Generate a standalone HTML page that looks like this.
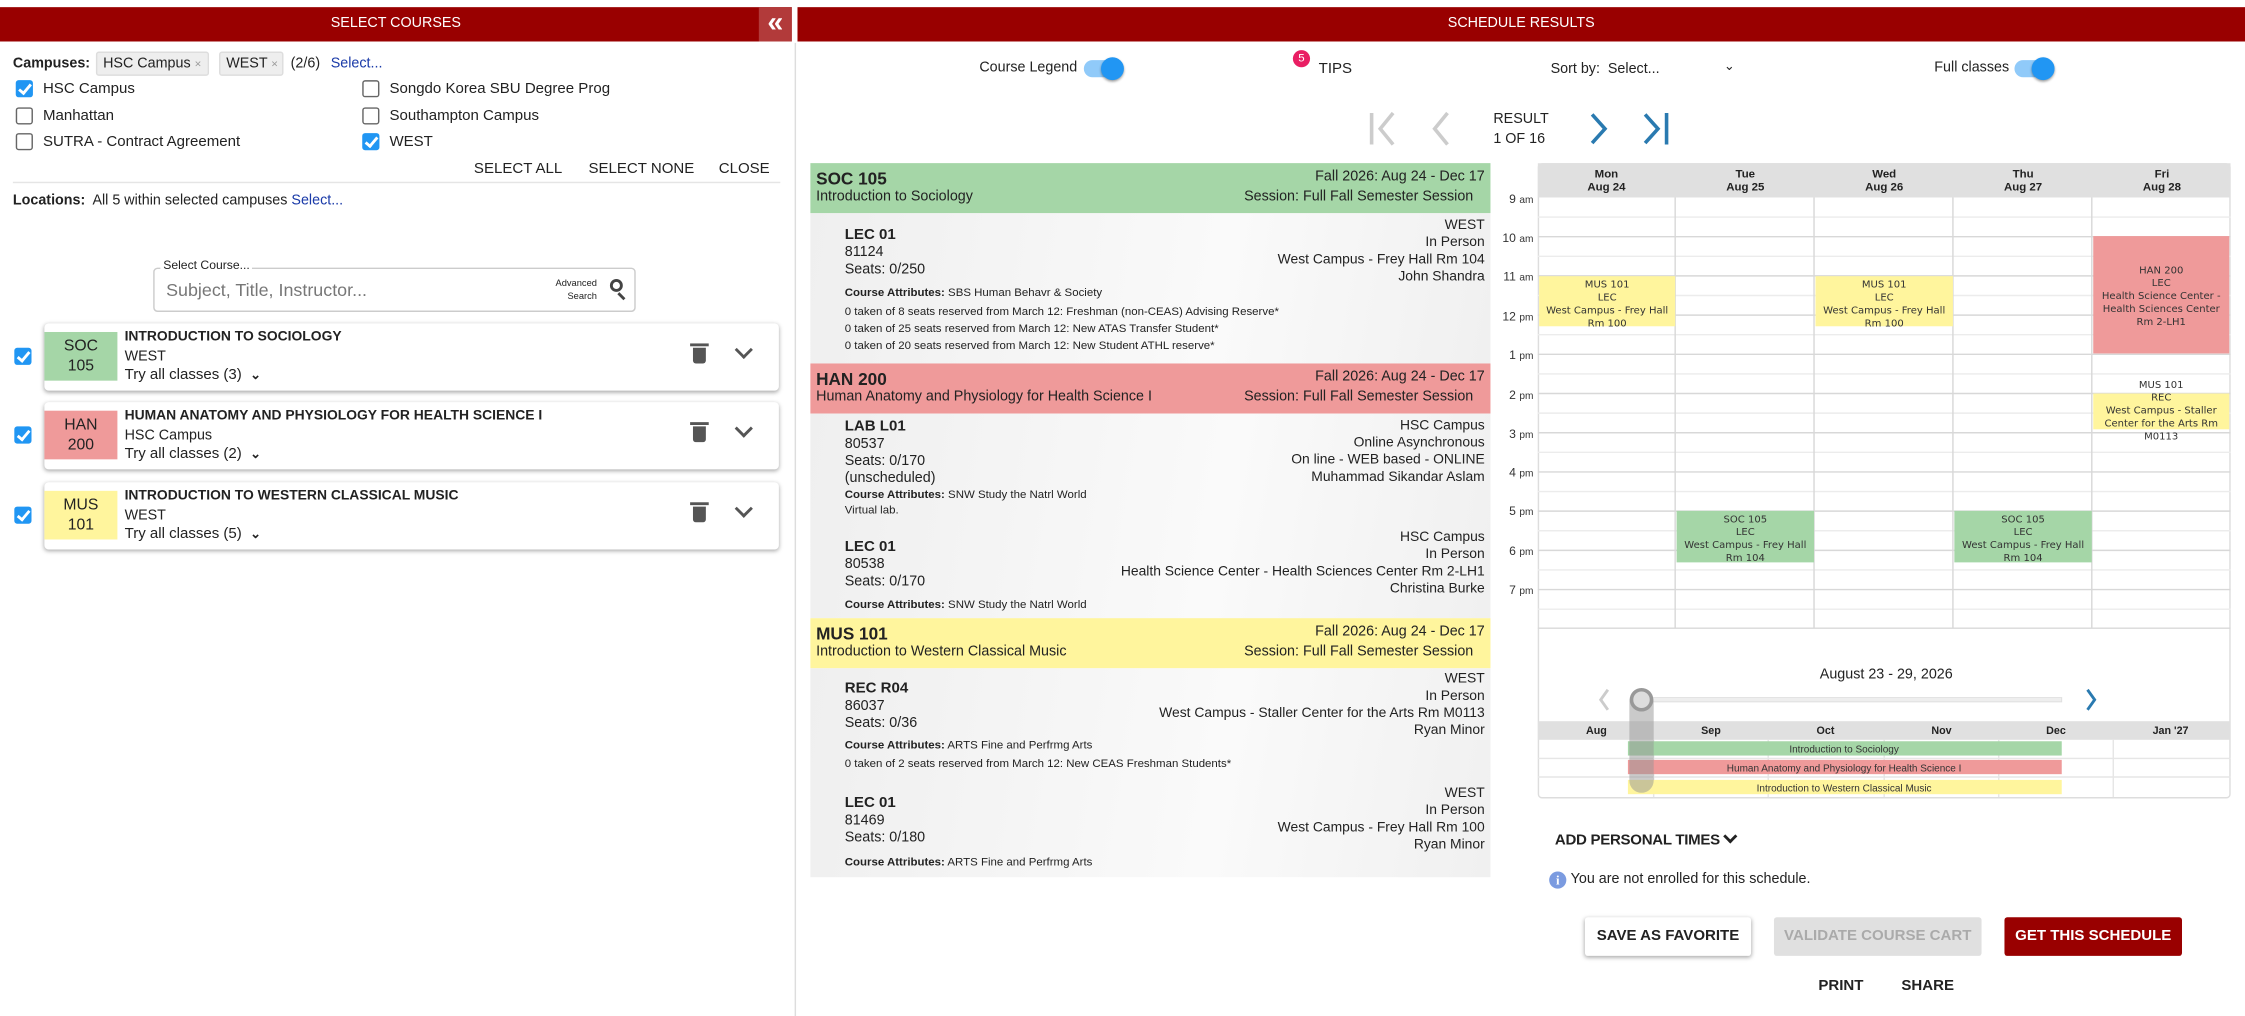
<!DOCTYPE html>
<html><head><meta charset="utf-8">
<style>
*{margin:0;padding:0;box-sizing:border-box}
html,body{width:2245px;height:1016px;overflow:hidden;background:#fff}
#w{position:absolute;left:0;top:0;width:1568px;height:710px;transform:scale(1.43176,1.43099);transform-origin:0 0;font-family:"Liberation Sans",sans-serif;color:#222;font-size:10px}
.a{position:absolute;white-space:nowrap}
.r{position:absolute;white-space:nowrap;text-align:right}
.hdr{position:absolute;top:5px;height:24px;background:#990000;color:#fff;font-size:10px;text-align:center;line-height:24px}
.cb{position:absolute;width:12px;height:12px;border:1.5px solid #666;border-radius:2px;background:#fff}
.cb.on{background:#2196f3;border-color:#2196f3}
.cb.on:after{content:"";position:absolute;left:3px;top:0px;width:3px;height:7px;border:solid #fff;border-width:0 2px 2px 0;transform:rotate(40deg)}
.chip{position:absolute;top:36px;height:17px;background:#eee;border:1px solid #ddd;border-radius:2px;line-height:15px;padding-left:4px;font-size:10px}
.card{position:absolute;left:31px;width:513px;height:47px;background:#fff;border-radius:3px;box-shadow:0 1px 3px rgba(0,0,0,.35)}
.badge{position:absolute;left:0;top:6px;width:51px;height:34px;text-align:center;font-size:11px;line-height:14px;padding-top:3px}
.ct{position:absolute;left:56px;top:4px;font-weight:bold;font-size:9.7px}
.cs{position:absolute;left:56px;top:18px;font-size:10px}
.cy{position:absolute;left:56px;top:30px;font-size:10.5px}
.trash{position:absolute;left:453px;top:17px;width:9px;height:11px;background:#555;border-radius:0 0 2px 2px}
.trash:before{content:"";position:absolute;left:-2px;top:-3px;width:13px;height:2px;background:#555}
.chev{position:absolute;left:484px;top:14px;width:9px;height:9px;border:solid #555;border-width:0 2px 2px 0;transform:rotate(45deg)}
.ch{position:absolute;left:566px;width:475px;height:35px}
.ch .t{position:absolute;left:4px;top:4px;font-weight:bold;font-size:12px}
.ch .s{position:absolute;left:4px;top:18px;font-size:10px}
.ch .d1{position:absolute;right:4px;top:4px;font-size:10px}
.ch .d2{position:absolute;right:12px;top:18px;font-size:10px}
.body{position:absolute;left:566px;width:475px;background:linear-gradient(100deg,#efefef 0%,#fafafa 60%,#f0f0f0 100%)}
.l{position:absolute;left:24px;font-size:10px;line-height:12px}
.l b{font-size:10.5px}
.rr{position:absolute;right:4px;text-align:right;font-size:9.7px;line-height:12px}
.at{position:absolute;left:24px;font-size:8px;line-height:11px}
.tl{position:absolute;right:497px;font-size:8.5px;color:#333}
.ev{position:absolute;text-align:center;font-family:"DejaVu Sans",sans-serif;font-size:7px;line-height:9px;color:#333;overflow:visible}
.btn{position:absolute;top:641px;height:27px;line-height:27px;text-align:center;font-weight:bold;font-size:10.5px;border-radius:2px}
.tgl{position:absolute;width:26px;height:12px;border-radius:6px;background:#90caf9}
.tgl:after{content:"";position:absolute;right:-2px;top:-2px;width:16px;height:16px;border-radius:50%;background:#2196f3;box-shadow:0 1px 2px rgba(0,0,0,.4)}
</style></head><body><div id="w">

<!-- LEFT PANEL -->
<div class="hdr" style="left:0;width:553px">SELECT COURSES</div>
<div class="a" style="left:530px;top:5px;width:23px;height:24px;background:#b23a3a;color:#fff;font-size:20px;line-height:22px;text-align:center;font-weight:bold">«</div>
<div style="position:absolute;left:555px;top:30px;width:1px;height:680px;background:#ddd"></div>

<div class="a" style="left:9px;top:39px;font-weight:bold;font-size:10px">Campuses:</div>
<div class="chip" style="left:67px;width:79px">HSC Campus <span style="color:#999;font-size:8px">×</span></div>
<div class="chip" style="left:153px;width:45px">WEST <span style="color:#999;font-size:8px">×</span></div>
<div class="a" style="left:203px;top:39px;font-size:10px">(2/6)</div>
<div class="a" style="left:231px;top:39px;font-size:10px;color:#1a3aa8">Select...</div>

<div class="cb on" style="left:11px;top:56px"></div><div class="a" style="left:30px;top:56px;font-size:10.5px">HSC Campus</div>
<div class="cb" style="left:11px;top:75px"></div><div class="a" style="left:30px;top:75px;font-size:10.5px">Manhattan</div>
<div class="cb" style="left:11px;top:93px"></div><div class="a" style="left:30px;top:93px;font-size:10.5px">SUTRA - Contract Agreement</div>
<div class="cb" style="left:253px;top:56px"></div><div class="a" style="left:272px;top:56px;font-size:10.5px">Songdo Korea SBU Degree Prog</div>
<div class="cb" style="left:253px;top:75px"></div><div class="a" style="left:272px;top:75px;font-size:10.5px">Southampton Campus</div>
<div class="cb on" style="left:253px;top:93px"></div><div class="a" style="left:272px;top:93px;font-size:10.5px">WEST</div>

<div class="a" style="left:331px;top:112px;font-size:10.5px">SELECT ALL</div>
<div class="a" style="left:411px;top:112px;font-size:10.5px">SELECT NONE</div>
<div class="a" style="left:502px;top:112px;font-size:10.5px">CLOSE</div>
<div style="position:absolute;left:9px;top:127px;width:536px;height:1px;background:#e5e5e5"></div>
<div class="a" style="left:9px;top:135px;font-size:10px"><b>Locations:</b>&nbsp; All 5 within selected campuses <span style="color:#1a3aa8">Select...</span></div>

<div style="position:absolute;left:107px;top:187px;width:337px;height:31px;border:1px solid #ccc;border-radius:3px"></div>
<div class="a" style="left:112px;top:180px;font-size:8.5px;background:#fff;padding:0 2px">Select Course...</div>
<div class="a" style="left:116px;top:196px;font-size:12.5px;color:#777">Subject, Title, Instructor...</div>
<div class="a" style="left:388px;top:194px;font-size:6.5px;text-align:right;line-height:9px">Advanced<br>&nbsp;&nbsp;&nbsp;Search</div>
<div style="position:absolute;left:426px;top:195px;width:9px;height:9px;border:2px solid #444;border-radius:50%"></div>
<div style="position:absolute;left:433px;top:204px;width:2px;height:6px;background:#444;transform:rotate(-45deg)"></div>

<div class="cb on" style="left:10px;top:243px"></div>
<div class="card" style="top:226px"><div class="badge" style="background:#a5d6a7">SOC<br>105</div><div class="ct">INTRODUCTION TO SOCIOLOGY</div><div class="cs">WEST</div><div class="cy">Try all classes (3) &nbsp;<b style="font-size:9px">⌄</b></div><div class="trash"></div><div class="chev"></div></div>
<div class="cb on" style="left:10px;top:298px"></div>
<div class="card" style="top:281px"><div class="badge" style="background:#ef9a9a">HAN<br>200</div><div class="ct">HUMAN ANATOMY AND PHYSIOLOGY FOR HEALTH SCIENCE I</div><div class="cs">HSC Campus</div><div class="cy">Try all classes (2) &nbsp;<b style="font-size:9px">⌄</b></div><div class="trash"></div><div class="chev"></div></div>
<div class="cb on" style="left:10px;top:354px"></div>
<div class="card" style="top:337px"><div class="badge" style="background:#fff59d">MUS<br>101</div><div class="ct">INTRODUCTION TO WESTERN CLASSICAL MUSIC</div><div class="cs">WEST</div><div class="cy">Try all classes (5) &nbsp;<b style="font-size:9px">⌄</b></div><div class="trash"></div><div class="chev"></div></div>

<!-- RIGHT PANEL -->
<div class="hdr" style="left:557px;width:1011px">SCHEDULE RESULTS</div>

<div class="a" style="left:684px;top:42px;font-size:10px">Course Legend</div>
<div class="tgl" style="left:757px;top:42px"></div>
<div class="a" style="left:903px;top:35px;width:12px;height:12px;border-radius:50%;background:#e91e63;color:#fff;font-size:8px;text-align:center;line-height:12px">5</div>
<div class="a" style="left:921px;top:42px;font-size:10.5px">TIPS</div>
<div class="a" style="left:1083px;top:43px;font-size:10px">Sort by: &nbsp;Select...</div>
<div class="a" style="left:1204px;top:41px;font-size:9px">⌄</div>
<div class="a" style="left:1351px;top:42px;font-size:10px">Full classes</div>
<div class="tgl" style="left:1407px;top:42px"></div>

<svg style="position:absolute;left:950px;top:76px" width="230" height="28">
<line x1="8" y1="3" x2="8" y2="25" stroke="#ccc" stroke-width="2.5"/>
<polyline points="23,3 14,14 23,25" fill="none" stroke="#ccc" stroke-width="2.5"/>
<polyline points="61,3 52,14 61,25" fill="none" stroke="#ccc" stroke-width="2.5"/>
<polyline points="162,4 171,14 162,24" fill="none" stroke="#2a7ab0" stroke-width="2.5"/>
<polyline points="199,4 208,14 199,24" fill="none" stroke="#2a7ab0" stroke-width="2.5"/>
<line x1="214" y1="3" x2="214" y2="25" stroke="#2a7ab0" stroke-width="2.5"/>
</svg>
<div class="a" style="left:1043px;top:77px;font-size:10px;line-height:14px">RESULT<br>1 OF 16</div>

<!-- results list -->
<div class="ch" style="top:114px;background:#a5d6a7"><div class="t">SOC 105</div><div class="s">Introduction to Sociology</div><div class="d1">Fall 2026: Aug 24 - Dec 17</div><div class="d2">Session: Full Fall Semester Session</div></div>
<div class="body" style="top:149px;height:105px">
<div class="l" style="top:9px"><b>LEC 01</b><br>81124<br>Seats: 0/250</div>
<div class="rr" style="top:3px">WEST<br>In Person<br>West Campus - Frey Hall Rm 104<br>John Shandra</div>
<div class="at" style="top:50px"><b>Course Attributes:</b> SBS Human Behavr &amp; Society</div>
<div class="at" style="top:63px">0 taken of 8 seats reserved from March 12: Freshman (non-CEAS) Advising Reserve*</div>
<div class="at" style="top:75px">0 taken of 25 seats reserved from March 12: New ATAS Transfer Student*</div>
<div class="at" style="top:87px">0 taken of 20 seats reserved from March 12: New Student ATHL reserve*</div>
</div>
<div class="ch" style="top:254px;background:#ef9a9a"><div class="t">HAN 200</div><div class="s">Human Anatomy and Physiology for Health Science I</div><div class="d1">Fall 2026: Aug 24 - Dec 17</div><div class="d2">Session: Full Fall Semester Session</div></div>
<div class="body" style="top:289px;height:143px">
<div class="l" style="top:3px"><b>LAB L01</b><br>80537<br>Seats: 0/170<br>(unscheduled)</div>
<div class="rr" style="top:3px">HSC Campus<br>Online Asynchronous<br>On line - WEB based - ONLINE<br>Muhammad Sikandar Aslam</div>
<div class="at" style="top:51px"><b>Course Attributes:</b> SNW Study the Natrl World</div>
<div class="at" style="top:62px">Virtual lab.</div>
<div class="l" style="top:87px"><b>LEC 01</b><br>80538<br>Seats: 0/170</div>
<div class="rr" style="top:81px">HSC Campus<br>In Person<br>Health Science Center - Health Sciences Center Rm 2-LH1<br>Christina Burke</div>
<div class="at" style="top:128px"><b>Course Attributes:</b> SNW Study the Natrl World</div>
</div>
<div class="ch" style="top:432px;background:#fff59d"><div class="t">MUS 101</div><div class="s">Introduction to Western Classical Music</div><div class="d1">Fall 2026: Aug 24 - Dec 17</div><div class="d2">Session: Full Fall Semester Session</div></div>
<div class="body" style="top:467px;height:146px">
<div class="l" style="top:8px"><b>REC R04</b><br>86037<br>Seats: 0/36</div>
<div class="rr" style="top:2px">WEST<br>In Person<br>West Campus - Staller Center for the Arts Rm M0113<br>Ryan Minor</div>
<div class="at" style="top:48px"><b>Course Attributes:</b> ARTS Fine and Perfrmg Arts</div>
<div class="at" style="top:61px">0 taken of 2 seats reserved from March 12: New CEAS Freshman Students*</div>
<div class="l" style="top:88px"><b>LEC 01</b><br>81469<br>Seats: 0/180</div>
<div class="rr" style="top:82px">WEST<br>In Person<br>West Campus - Frey Hall Rm 100<br>Ryan Minor</div>
<div class="at" style="top:130px"><b>Course Attributes:</b> ARTS Fine and Perfrmg Arts</div>
</div>

<!-- calendar -->
<div style="position:absolute;left:1074px;top:114px;width:484px;height:444px;border:1px solid #ddd;border-radius:3px"></div>
<svg style="position:absolute;left:1074px;top:114px" width="484" height="326">
<rect x="0" y="0" width="484" height="24" fill="#e0e0e0"/>
<g stroke="#ececec" stroke-width="1">
<line x1="0" y1="37.7" x2="484" y2="37.7"/><line x1="0" y1="65.1" x2="484" y2="65.1"/><line x1="0" y1="92.5" x2="484" y2="92.5"/><line x1="0" y1="119.9" x2="484" y2="119.9"/><line x1="0" y1="147.3" x2="484" y2="147.3"/><line x1="0" y1="174.7" x2="484" y2="174.7"/><line x1="0" y1="202.1" x2="484" y2="202.1"/><line x1="0" y1="229.5" x2="484" y2="229.5"/><line x1="0" y1="256.9" x2="484" y2="256.9"/><line x1="0" y1="284.3" x2="484" y2="284.3"/><line x1="0" y1="311.7" x2="484" y2="311.7"/>
</g>
<g stroke="#d8d8d8" stroke-width="1">
<line x1="0" y1="51.4" x2="484" y2="51.4"/><line x1="0" y1="78.8" x2="484" y2="78.8"/><line x1="0" y1="106.2" x2="484" y2="106.2"/><line x1="0" y1="133.6" x2="484" y2="133.6"/><line x1="0" y1="161" x2="484" y2="161"/><line x1="0" y1="188.4" x2="484" y2="188.4"/><line x1="0" y1="215.8" x2="484" y2="215.8"/><line x1="0" y1="243.2" x2="484" y2="243.2"/><line x1="0" y1="270.6" x2="484" y2="270.6"/><line x1="0" y1="298" x2="484" y2="298"/><line x1="0" y1="325" x2="484" y2="325"/>
<line x1="96" y1="24" x2="96" y2="325"/><line x1="193" y1="24" x2="193" y2="325"/><line x1="290" y1="24" x2="290" y2="325"/><line x1="387" y1="24" x2="387" y2="325"/>
</g>
<g font-family="Liberation Sans" font-size="8" font-weight="bold" text-anchor="middle" fill="#222">
<text x="48" y="10">Mon</text><text x="48" y="19">Aug 24</text>
<text x="145" y="10">Tue</text><text x="145" y="19">Aug 25</text>
<text x="242" y="10">Wed</text><text x="242" y="19">Aug 26</text>
<text x="339" y="10">Thu</text><text x="339" y="19">Aug 27</text>
<text x="436" y="10">Fri</text><text x="436" y="19">Aug 28</text>
</g>
</svg>
<div class="tl" style="top:134px">9 <small>am</small></div><div class="tl" style="top:161px">10 <small>am</small></div><div class="tl" style="top:188px">11 <small>am</small></div><div class="tl" style="top:216px">12 <small>pm</small></div><div class="tl" style="top:243px">1 <small>pm</small></div><div class="tl" style="top:271px">2 <small>pm</small></div><div class="tl" style="top:298px">3 <small>pm</small></div><div class="tl" style="top:325px">4 <small>pm</small></div><div class="tl" style="top:352px">5 <small>pm</small></div><div class="tl" style="top:380px">6 <small>pm</small></div><div class="tl" style="top:407px">7 <small>pm</small></div>

<div class="ev" style="left:1075px;top:193px;width:95px;height:35px;background:#fff59d;padding-top:2px">MUS 101<br>LEC<br>West Campus - Frey Hall<br>Rm 100</div>
<div class="ev" style="left:1268px;top:193px;width:96px;height:35px;background:#fff59d;padding-top:2px">MUS 101<br>LEC<br>West Campus - Frey Hall<br>Rm 100</div>
<div class="ev" style="left:1462px;top:165px;width:95px;height:82px;background:#ef9a9a;padding-top:20px">HAN 200<br>LEC<br>Health Science Center -<br>Health Sciences Center<br>Rm 2-LH1</div>
<div class="ev" style="left:1462px;top:275px;width:95px;height:25px;background:#fff59d"></div>
<div class="ev" style="left:1462px;top:265px;width:95px;height:40px">MUS 101<br>REC<br>West Campus - Staller<br>Center for the Arts Rm<br>M0113</div>
<div class="ev" style="left:1171px;top:357px;width:96px;height:36px;background:#a5d6a7;padding-top:2px">SOC 105<br>LEC<br>West Campus - Frey Hall<br>Rm 104</div>
<div class="ev" style="left:1365px;top:357px;width:96px;height:36px;background:#a5d6a7;padding-top:2px">SOC 105<br>LEC<br>West Campus - Frey Hall<br>Rm 104</div>

<div class="a" style="left:1271px;top:466px;font-size:10px">August 23 - 29, 2026</div>
<svg style="position:absolute;left:1074px;top:478px" width="484" height="80">
<polyline points="49,4 44,11 49,18" fill="none" stroke="#ccc" stroke-width="2"/>
<polyline points="384,4 389,11 384,18" fill="none" stroke="#2a7ab0" stroke-width="2"/>
<rect x="72" y="9.5" width="294" height="3" fill="#eee" stroke="#ddd" stroke-width="0.6"/>
<rect x="0" y="26" width="484" height="13" fill="#e0e0e0"/>
<g font-family="Liberation Sans" font-size="7.5" font-weight="bold" text-anchor="middle" fill="#222">
<text x="41" y="35">Aug</text><text x="121" y="35">Sep</text><text x="201" y="35">Oct</text><text x="282" y="35">Nov</text><text x="362" y="35">Dec</text><text x="442" y="35">Jan '27</text></g>
<g stroke="#e6e6e6"><line x1="0" y1="52" x2="484" y2="52"/><line x1="0" y1="65" x2="484" y2="65"/><line x1="81" y1="39" x2="81" y2="79"/><line x1="161" y1="39" x2="161" y2="79"/><line x1="242" y1="39" x2="242" y2="79"/><line x1="322" y1="39" x2="322" y2="79"/><line x1="402" y1="39" x2="402" y2="79"/></g>
<rect x="63" y="40" width="303" height="10" fill="#a5d6a7"/>
<rect x="63" y="53" width="303" height="10" fill="#ef9a9a"/>
<rect x="63" y="67" width="303" height="10" fill="#fff59d"/>
<g font-family="Liberation Sans" font-size="7" text-anchor="middle" fill="#333">
<text x="214" y="48">Introduction to Sociology</text>
<text x="214" y="61">Human Anatomy and Physiology for Health Science I</text>
<text x="214" y="75">Introduction to Western Classical Music</text></g>
<rect x="64" y="4" width="17" height="72" rx="8.5" fill="rgba(150,150,150,0.5)"/>
<circle cx="72.5" cy="11" r="7" fill="#ddd" stroke="#999" stroke-width="2.5"/>
</svg>

<div class="a" style="left:1086px;top:581px;font-size:10.5px;font-weight:bold;letter-spacing:-0.2px">ADD PERSONAL TIMES</div>
<div style="position:absolute;left:1205px;top:581px;width:7px;height:7px;border:solid #222;border-width:0 2px 2px 0;transform:rotate(45deg)"></div>
<div class="a" style="left:1082px;top:609px;width:12px;height:12px;border-radius:50%;background:#7b9be0;color:#fff;font-size:9px;font-weight:bold;text-align:center;line-height:12px;font-family:'Liberation Serif',serif">i</div>
<div class="a" style="left:1097px;top:609px;font-size:10px">You are not enrolled for this schedule.</div>

<div class="btn" style="left:1107px;width:116px;background:#fff;box-shadow:0 1px 3px rgba(0,0,0,.35)">SAVE AS FAVORITE</div>
<div class="btn" style="left:1239px;width:145px;background:#e0e0e0;color:#aaa">VALIDATE COURSE CART</div>
<div class="btn" style="left:1400px;width:124px;background:#990000;color:#fff">GET THIS SCHEDULE</div>
<div class="a" style="left:1270px;top:683px;font-size:10.5px;font-weight:bold">PRINT</div>
<div class="a" style="left:1328px;top:683px;font-size:10.5px;font-weight:bold">SHARE</div>

</div></body></html>
